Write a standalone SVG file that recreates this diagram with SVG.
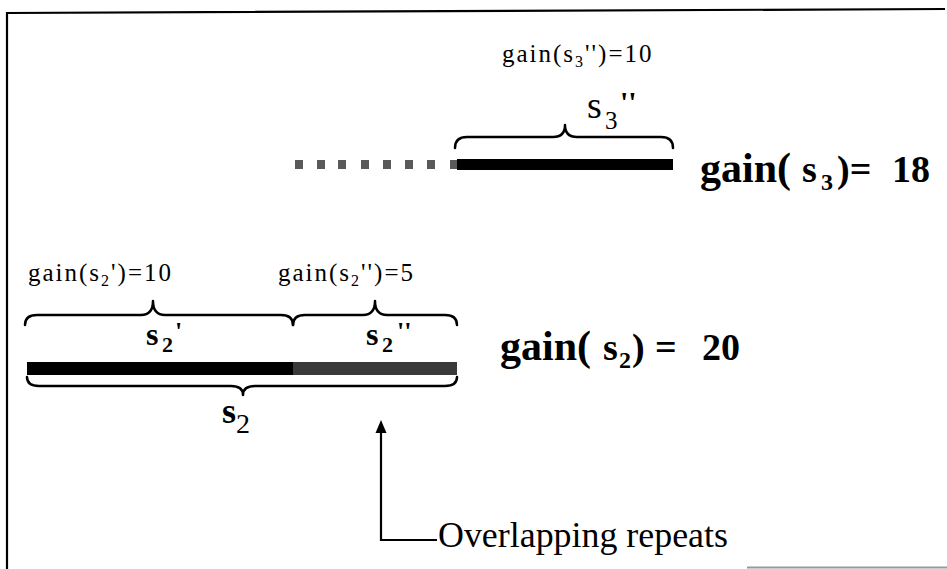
<svg xmlns="http://www.w3.org/2000/svg" width="947" height="569" viewBox="0 0 947 569">
<defs>
<style>
.brace{fill:none;stroke:#000;stroke-width:2.5;stroke-linecap:round;stroke-linejoin:round}
.small{font-family:"Liberation Serif","Times New Roman",serif;font-size:25px;letter-spacing:2px;fill:#000}
.big{font-family:"Liberation Serif","Times New Roman",serif;font-size:38px;font-weight:bold;fill:#000}
.lbl{font-family:"Liberation Serif","Times New Roman",serif;fill:#000}
.sq{fill:#5a5a5a}
</style>
</defs>
<rect width="947" height="569" fill="#fff"/>
<g id="frame">
<polyline points="7,569 7,13 945,9" fill="none" stroke="#000" stroke-width="2.2"/>
<line x1="747" y1="567.5" x2="947" y2="567.5" stroke="#999" stroke-width="2"/>
</g>
<g id="s3-segment">
<g class="sq">
<rect x="295" y="160" width="8" height="9"/>
<rect x="317" y="160" width="8" height="9"/>
<rect x="338" y="160" width="8" height="9"/>
<rect x="361" y="160" width="8" height="9"/>
<rect x="383" y="160" width="8" height="9"/>
<rect x="405" y="160" width="8" height="9"/>
<rect x="427" y="160" width="8" height="9"/>
<rect x="450" y="160" width="7" height="9"/>
</g>
<rect x="457" y="159" width="216" height="11" fill="#000"/>
<path class="brace" d="M455,148 Q455,137 467,137 L553,137 Q565,137 565,125 Q565,137 577,137 L661,137 Q673,137 673,148"/>
<text class="lbl" x="587" y="118" font-size="38">s<tspan x="605" y="129" font-size="25">3</tspan><tspan x="620" y="112" font-size="30" font-weight="bold">''</tspan></text>
<text class="small" x="502" y="62">gain(s<tspan dy="5" font-size="16">3</tspan><tspan dy="-5">'')=10</tspan></text>
<text class="big" x="700" y="182"><tspan font-size="42">gain(</tspan><tspan x="802">s</tspan><tspan x="821" y="190" font-size="24">3</tspan><tspan x="837" y="182">)=</tspan><tspan x="892">18</tspan></text>
</g>
<g id="s2-segment">
<rect x="27" y="362" width="266" height="13" fill="#000"/>
<rect x="293" y="362" width="164" height="13" fill="#3a3a3a"/>
<path class="brace" d="M25,325 Q25,315 37,315 L141,315 Q153,315 153,301 Q153,315 165,315 L281,315 Q293,315 293,325"/>
<path class="brace" d="M293,325 Q293,315 305,315 L363,315 Q375,315 375,301 Q375,315 387,315 L445,315 Q457,315 457,325"/>
<path class="brace" d="M27,377 Q27,386 39,386 L231,386 Q243,386 243,395 Q243,386 255,386 L445,386 Q457,386 457,377"/>
<text class="lbl" x="146" y="345" font-size="32" font-weight="bold">s<tspan x="162" y="352" font-size="22">2</tspan><tspan x="175" y="340" font-size="26">'</tspan></text>
<text class="lbl" x="366" y="345" font-size="32" font-weight="bold">s<tspan x="382" y="352" font-size="22">2</tspan><tspan x="397" y="340" font-size="26">''</tspan></text>
<text class="lbl" x="222" y="423" font-size="36" font-weight="bold">s<tspan x="236" y="433" font-size="28" font-weight="normal">2</tspan></text>
<text class="small" x="28" y="281">gain(s<tspan dy="5" font-size="16">2</tspan><tspan dy="-5">')=10</tspan></text>
<text class="small" x="278" y="281">gain(s<tspan dy="5" font-size="16">2</tspan><tspan dy="-5">'')=5</tspan></text>
<text class="big" x="500" y="360"><tspan font-size="42">gain(</tspan><tspan x="603">s</tspan><tspan x="619" y="368" font-size="24">2</tspan><tspan x="632" y="360">)</tspan><tspan x="655">=</tspan><tspan x="702">20</tspan></text>
</g>
<g id="connectors">
<path d="M437,540 L381,540 L381,430" fill="none" stroke="#000" stroke-width="2.2"/>
<polygon points="381,420 375.5,433 386.5,433" fill="#000"/>
</g>
<g id="note">
<text class="lbl" x="438" y="547" font-size="35" textLength="290" lengthAdjust="spacingAndGlyphs">Overlapping repeats</text>
</g>
</svg>
